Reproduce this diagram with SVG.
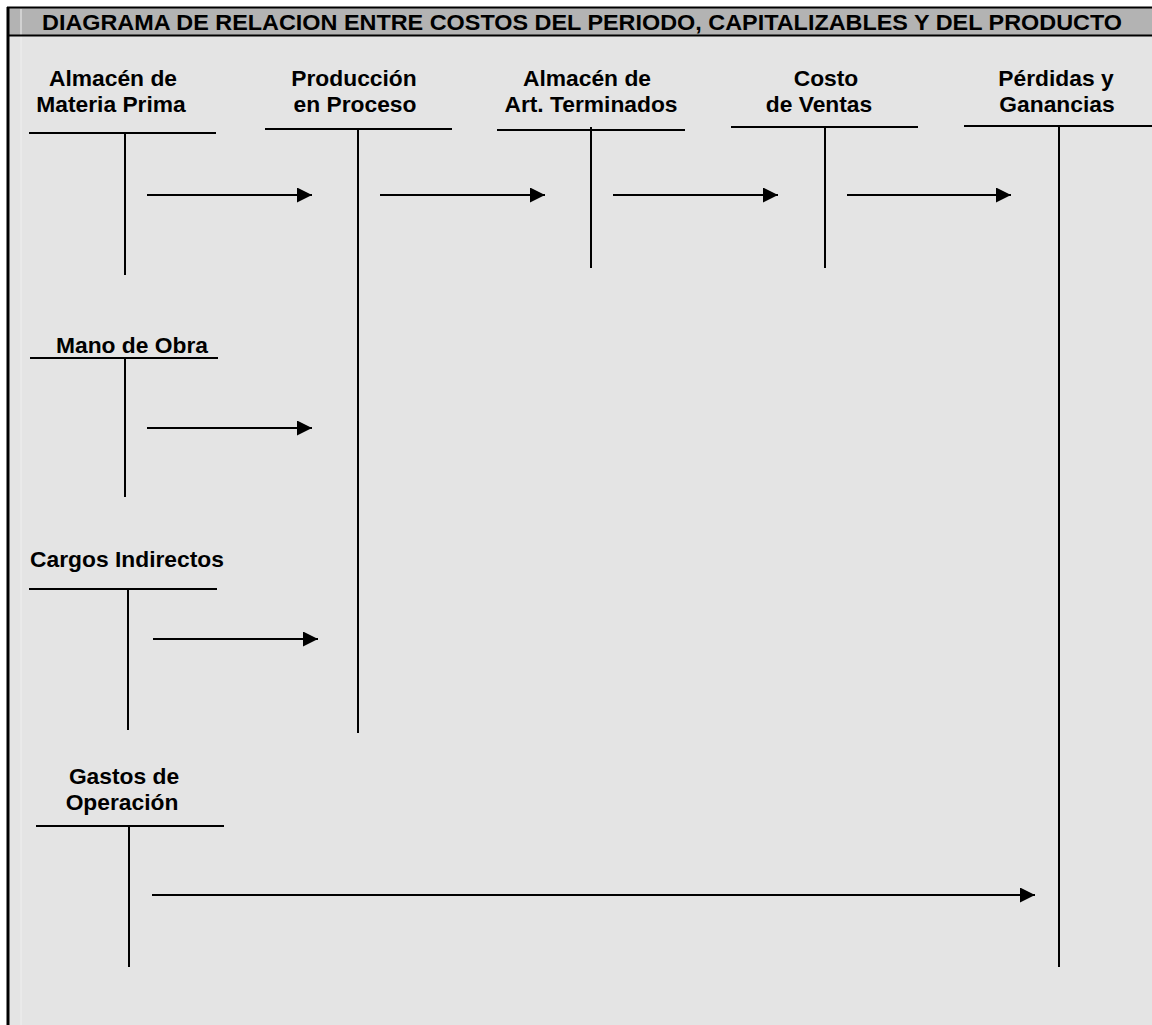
<svg xmlns="http://www.w3.org/2000/svg" width="1152" height="1025" viewBox="0 0 1152 1025">
  <defs>
    <marker id="arrow" markerWidth="16" markerHeight="16" refX="15" refY="7.5" orient="auto" markerUnits="userSpaceOnUse">
      <path d="M0,0 L15,7.5 L0,15 Z" fill="#000"/>
    </marker>
    <style>
      .lbl { font-family: "Liberation Sans", Arial, sans-serif; font-weight: bold; font-size: 22.8px; fill: #000; }
      .title { font-family: "Liberation Sans", Arial, sans-serif; font-weight: bold; font-size: 22px; fill: #000; }
      .t { stroke: #000; stroke-width: 2; fill: none; }
      .flow { stroke: #000; stroke-width: 2; fill: none; marker-end: url(#arrow); }
    </style>
  </defs>

  <!-- page background and frame -->
  <rect x="0" y="0" width="1152" height="1025" fill="#ffffff"/>
  <rect x="8" y="8" width="1144" height="1017" fill="#e4e4e4"/>
  <rect x="8" y="8" width="1144" height="27" fill="#b3b3b3"/>
  <line x1="21" y1="9" x2="21" y2="1025" stroke="#efefef" stroke-width="1"/>
  <line x1="7" y1="7.5" x2="1152" y2="7.5" stroke="#000" stroke-width="2"/>
  <line x1="8" y1="35.5" x2="1152" y2="35.5" stroke="#000" stroke-width="2"/>
  <line x1="8" y1="7" x2="8" y2="1025" stroke="#000" stroke-width="3"/>

  <text class="title" x="42" y="29.5" textLength="1080" lengthAdjust="spacingAndGlyphs">DIAGRAMA DE RELACION ENTRE COSTOS DEL PERIODO, CAPITALIZABLES Y DEL PRODUCTO</text>

  <!-- T accounts -->
  <g id="almacen-materia-prima">
    <text class="lbl" x="113" y="86" text-anchor="middle">Almacén de</text>
    <text class="lbl" x="111" y="112" text-anchor="middle">Materia Prima</text>
    <line class="t" x1="29" y1="133" x2="216" y2="133"/>
    <line class="t" x1="125" y1="133" x2="125" y2="275"/>
  </g>

  <g id="produccion-en-proceso">
    <text class="lbl" x="354" y="86" text-anchor="middle">Producción</text>
    <text class="lbl" x="355" y="112" text-anchor="middle">en Proceso</text>
    <line class="t" x1="265" y1="129" x2="452" y2="129"/>
    <line class="t" x1="358" y1="129" x2="358" y2="733"/>
  </g>

  <g id="almacen-art-terminados">
    <text class="lbl" x="587" y="86" text-anchor="middle">Almacén de</text>
    <text class="lbl" x="591" y="112" text-anchor="middle">Art. Terminados</text>
    <line class="t" x1="497" y1="130" x2="685" y2="130"/>
    <line class="t" x1="591" y1="127" x2="591" y2="268"/>
  </g>

  <g id="costo-de-ventas">
    <text class="lbl" x="826" y="86" text-anchor="middle">Costo</text>
    <text class="lbl" x="819" y="112" text-anchor="middle">de Ventas</text>
    <line class="t" x1="731" y1="127" x2="918" y2="127"/>
    <line class="t" x1="825" y1="127" x2="825" y2="268"/>
  </g>

  <g id="perdidas-y-ganancias">
    <text class="lbl" x="1056" y="86" text-anchor="middle">Pérdidas y</text>
    <text class="lbl" x="1057" y="112" text-anchor="middle">Ganancias</text>
    <line class="t" x1="964" y1="126" x2="1152" y2="126"/>
    <line class="t" x1="1059" y1="126" x2="1059" y2="967"/>
  </g>

  <g id="mano-de-obra">
    <text class="lbl" x="132" y="353" text-anchor="middle">Mano de Obra</text>
    <line class="t" x1="30" y1="358" x2="218" y2="358"/>
    <line class="t" x1="125" y1="358" x2="125" y2="497"/>
  </g>

  <g id="cargos-indirectos">
    <text class="lbl" x="127" y="567" text-anchor="middle">Cargos Indirectos</text>
    <line class="t" x1="29" y1="589" x2="217" y2="589"/>
    <line class="t" x1="128" y1="589" x2="128" y2="730"/>
  </g>

  <g id="gastos-de-operacion">
    <text class="lbl" x="124" y="784" text-anchor="middle">Gastos de</text>
    <text class="lbl" x="122" y="810" text-anchor="middle">Operación</text>
    <line class="t" x1="36" y1="826" x2="224" y2="826"/>
    <line class="t" x1="129" y1="826" x2="129" y2="967"/>
  </g>

  <!-- flows between accounts -->
  <g id="connectors">
    <line class="flow" x1="147" y1="195" x2="312" y2="195"/>
    <line class="flow" x1="380" y1="195" x2="545" y2="195"/>
    <line class="flow" x1="613" y1="195" x2="778" y2="195"/>
    <line class="flow" x1="847" y1="195" x2="1011" y2="195"/>
    <line class="flow" x1="147" y1="428" x2="312" y2="428"/>
    <line class="flow" x1="153" y1="639" x2="318" y2="639"/>
    <line class="flow" x1="152" y1="895" x2="1035" y2="895"/>
  </g>
</svg>
